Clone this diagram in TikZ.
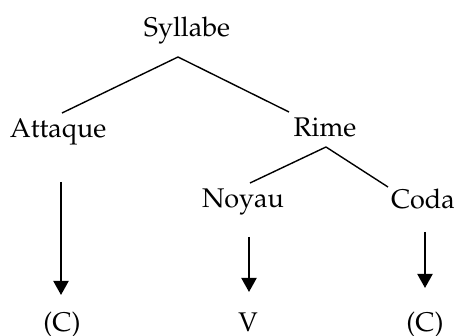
\documentclass[tikz,border=0pt]{standalone}
\usepackage[T1]{fontenc}
\usepackage{mathpazo}
\usetikzlibrary{arrows.meta}
\begin{document}
\begin{tikzpicture}[x=1pt,y=-1pt,
  lbl/.style={anchor=base,inner sep=0pt,font=\fontsize{27}{30}\selectfont},
  branch/.style={line width=1.4pt},
  down/.style={line width=2pt,-{Triangle[width=15pt,length=14pt]}}]
\useasboundingbox (0,0) rectangle (456,336);
\node[lbl] (syl) at (187,37) {Syllabe};
\node[lbl] (att) at (58,138) {Attaque};
\node[lbl] (rime) at (325,137) {Rime};
\node[lbl] (noy) at (243,208) {Noyau};
\node[lbl] (coda) at (423,209) {Coda};
\node[lbl] (c1) at (62,332) {(C)};
\node[lbl] (v) at (248,332) {V};
\node[lbl] (c2) at (425,332) {(C)};
\coordinate (sylb) at (178,57);
\coordinate (attt) at (62,113);
\coordinate (rimet) at (289,112);
\coordinate (rimeb) at (326,147);
\coordinate (noyt) at (250,183);
\coordinate (codat) at (388,187);
\coordinate (attb) at (61,182);
\coordinate (c1t) at (61,295);
\coordinate (noyb) at (249,237);
\coordinate (vt) at (249,292);
\coordinate (codab) at (425,232);
\coordinate (c2t) at (425,288);
\draw[branch] (sylb) -- (attt);
\draw[branch] (sylb) -- (rimet);
\draw[branch] (rimeb) -- (noyt);
\draw[branch] (rimeb) -- (codat);
\draw[down] (attb) -- (c1t);
\draw[down] (noyb) -- (vt);
\draw[down] (codab) -- (c2t);
\end{tikzpicture}
\end{document}
